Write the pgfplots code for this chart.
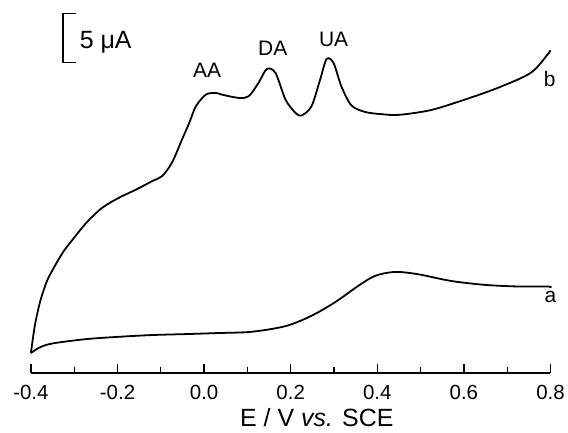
\documentclass[border=0pt]{standalone}
\usepackage{fontspec}
\setmainfont{Liberation Sans}
\usepackage{pgfplots}
\pgfplotsset{compat=1.18}
\begin{document}
\begin{tikzpicture}
\begin{axis}[
  scale only axis,
  width=521pt, height=364pt,
  xmin=-0.4, xmax=0.8, ymin=0, ymax=37.9,
  axis y line=none,
  axis x line*=bottom,
  axis line style={line width=1.3pt},
  xtick={-0.4,-0.2,0,0.2,0.4,0.6,0.8},
  xticklabels={-0.4,-0.2,0.0,0.2,0.4,0.6,0.8},
  minor xtick={-0.3,-0.1,0.1,0.3,0.5,0.7},
  tick align=inside,
  major tick length=9pt, minor tick length=6pt,
  tick style={line width=1.3pt, black},
  x tick label style={font=\fontsize{20.5}{22}\selectfont, anchor=base, yshift=-26.7pt},
  clip=false,
]
\addplot[black, line width=1.8pt, smooth, tension=0.5] coordinates {
(-0.400,2.08) (-0.379,2.68) (-0.349,3.09) (-0.271,3.54) (-0.195,3.78)
(-0.120,3.96) (-0.041,4.06) (0.034,4.17) (0.110,4.30) (0.189,4.90)
(0.248,5.97) (0.303,7.40) (0.356,9.09) (0.395,10.14) (0.441,10.55)
(0.494,10.31) (0.570,9.61) (0.648,9.20) (0.724,9.03) (0.793,9.03) (0.800,8.9)
};
\addplot[black, line width=1.8pt, smooth, tension=0.5] coordinates {
(-0.400,2.08) (-0.391,4.93) (-0.379,7.40) (-0.364,9.48) (-0.349,10.83)
(-0.326,12.60) (-0.303,13.96) (-0.271,15.73) (-0.234,17.29) (-0.195,18.33)
(-0.156,19.17) (-0.120,20.03) (-0.097,20.55) (-0.074,21.98) (-0.051,24.38)
(-0.034,26.15) (-0.019,27.84) (0.004,29.06) (0.027,29.24) (0.041,29.06)
(0.080,28.72) (0.103,28.89) (0.126,30.31) (0.145,31.74) (0.165,31.32)
(0.188,28.54) (0.211,27.16) (0.225,26.88) (0.248,27.84) (0.268,30.63)
(0.283,32.78) (0.299,32.36) (0.317,29.93) (0.340,27.95) (0.372,27.25)
(0.410,27.02) (0.450,26.95) (0.524,27.45) (0.602,28.54) (0.678,29.76)
(0.754,31.32) (0.793,33.23) (0.800,33.7)
};
\node[anchor=base, font=\fontsize{21}{23}\selectfont] at (axis cs:0.007,30.83) {AA};
\node[anchor=base, font=\fontsize{21}{23}\selectfont] at (axis cs:0.1586,33.13) {DA};
\node[anchor=base, font=\fontsize{21}{23}\selectfont] at (axis cs:0.299,34.06) {UA};
\node[anchor=base, font=\fontsize{21}{23}\selectfont] at (axis cs:0.798,29.9) {b};
\node[anchor=base, font=\fontsize{21}{23}\selectfont] at (axis cs:0.800,7.4) {a};
\draw[line width=1.3pt] (axis cs:-0.295,37.5) -- (axis cs:-0.326,37.5) -- (axis cs:-0.326,32.4) -- (axis cs:-0.295,32.4);
\node[anchor=base west, inner sep=0pt, font=\fontsize{25}{27}\selectfont] at (axis cs:-0.2874,33.85) {5 μA};
\node[anchor=base west, inner sep=0pt, font=\fontsize{25}{27}\selectfont] at (axis cs:0.0828,-5.625) {E / V \textit{vs.} SCE};
\end{axis}
\path (-31pt,-60pt) rectangle (537pt,374pt);
\end{tikzpicture}
\end{document}
